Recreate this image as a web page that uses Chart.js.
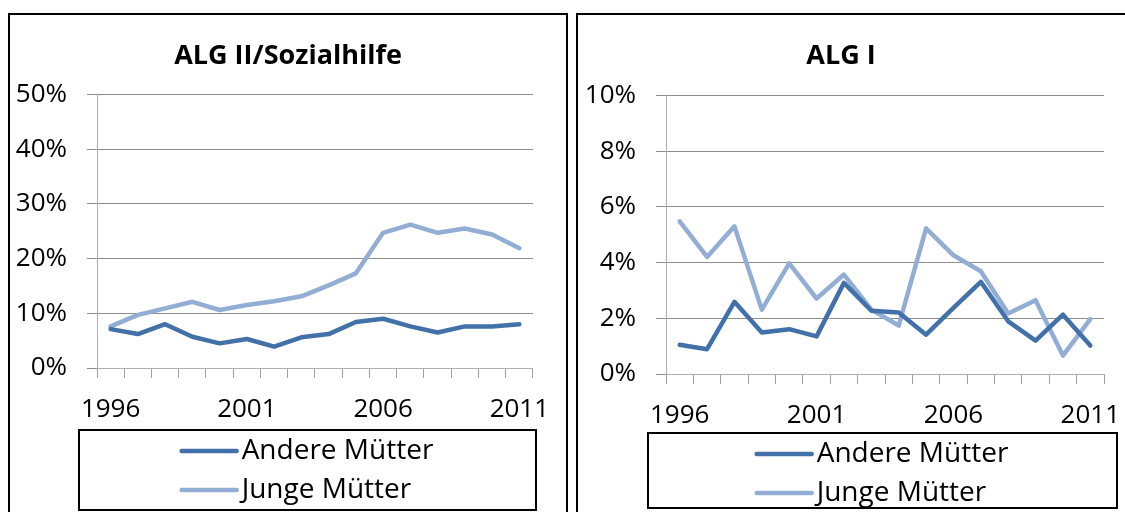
<!DOCTYPE html>
<html>
<head>
<meta charset="utf-8">
<script src="https://cdn.jsdelivr.net/npm/chart.js@4.4.1/dist/chart.umd.min.js"></script>
<style>
  body { margin: 0; background: #fff; width: 1125px; height: 512px; overflow: hidden; position: relative; }
  .panel { position: absolute; top: 13px; height: 520px; border: 2px solid #000; }
  #p1 { left: 8px; width: 556px; }
  #p2 { left: 576px; width: 560px; }
  canvas { display: block; }
</style>
</head>
<body>
<div class="panel" id="p1"><canvas id="chart1"></canvas></div>
<div class="panel" id="p2"><canvas id="chart2"></canvas></div>
<script>
// data (percent)
const years = ['1996', '1997', '1998', '1999', '2000', '2001', '2002', '2003',
  '2004', '2005', '2006', '2007', '2008', '2009', '2010', '2011'];
const shownYears = ['1996', '2001', '2006', '2011'];

const alg2Andere = [7.1, 6.2, 8.0, 5.7, 4.5, 5.3, 3.9, 5.6, 6.2, 8.4, 9.0, 7.6, 6.5, 7.6, 7.6, 8.0];
const alg2Junge = [7.6, 9.7, 10.9, 12.1, 10.6, 11.5, 12.2, 13.1, 15.1, 17.3, 24.7, 26.2, 24.7, 25.5, 24.4, 21.9];

const alg1Andere = [1.05, 0.89, 2.59, 1.49, 1.61, 1.35, 3.27, 2.27, 2.21, 1.41, 2.37, 3.31, 1.89, 1.20, 2.13, 1.02];
const alg1Junge = [5.48, 4.20, 5.30, 2.31, 3.97, 2.71, 3.57, 2.31, 1.74, 5.23, 4.26, 3.69, 2.17, 2.65, 0.66, 1.97];

const darkBlue = '#4271aa';
const lightBlue = '#93aed5';
const FONT = '"Open Sans", sans-serif';

// legend with a frame, drawn below the x axis
const boxLegend = {
  id: 'boxLegend',
  afterDraw(chart, args, opts) {
    const { ctx, chartArea: a } = chart;
    const x0 = a.left + opts.left, x1 = a.right + opts.right;
    const y0 = a.bottom + opts.top, y1 = a.bottom + opts.bottom;
    ctx.save();
    ctx.lineWidth = 2;
    ctx.strokeStyle = '#000';
    ctx.strokeRect(x0, y0, x1 - x0, y1 - y0);
    ctx.font = '28px ' + FONT;
    const sets = chart.data.datasets;
    const tw = Math.max(...sets.map(d => ctx.measureText(d.label).width));
    const sx = (x0 + x1) / 2 - (60 + tw) / 2;
    sets.forEach((d, i) => {
      const y = y0 + 21 + i * 39;
      ctx.strokeStyle = d.borderColor;
      ctx.lineWidth = d.borderWidth;
      ctx.lineCap = 'round';
      ctx.beginPath();
      ctx.moveTo(sx, y);
      ctx.lineTo(sx + 55, y);
      ctx.stroke();
      ctx.fillStyle = '#000';
      ctx.textBaseline = 'middle';
      ctx.fillText(d.label, sx + 60, y);
    });
    ctx.restore();
  }
};

// optionally centre the title on the whole panel, not the padded area
const centerTitle = {
  id: 'centerTitle',
  afterLayout(chart, args, opts) {
    const t = chart.titleBlock;
    if (t && opts.full) { t.left = 0; t.right = chart.width; t.width = chart.width; }
  }
};

function makeChart(id, title, andere, junge, yMax, yStep, box) {
  return new Chart(document.getElementById(id), {
    type: 'line',
    data: {
      labels: years,
      datasets: [
        { label: 'Andere Mütter', data: andere, borderColor: darkBlue, borderWidth: 4.5 },
        { label: 'Junge Mütter', data: junge, borderColor: lightBlue, borderWidth: 4.5 }
      ]
    },
    options: {
      responsive: true,
      maintainAspectRatio: false,
      animation: false,
      layout: { padding: { left: 0, right: box.padRight, top: 0, bottom: 0 } },
      elements: {
        point: { radius: 0 },
        line: { tension: 0, borderJoinStyle: 'round', borderCapStyle: 'round', fill: false }
      },
      plugins: {
        legend: { display: false },
        tooltip: { enabled: false },
        title: {
          display: true,
          text: title,
          color: '#000',
          font: { family: FONT, size: 27, weight: 'bold', lineHeight: 1.2 },
          padding: { top: box.titleTop, bottom: box.titleBottom }
        },
        boxLegend: box.legend,
        centerTitle: { full: box.fullTitle }
      },
      scales: {
        x: {
          offset: true,
          grid: { offset: true, drawOnChartArea: false, tickLength: 10, color: '#a0a0a0' },
          border: { color: '#b0b0b0' },
          ticks: {
            autoSkip: false,
            maxRotation: 0,
            padding: 16,
            color: '#000',
            font: { family: FONT, size: 26 },
            callback: (v, i) => shownYears.includes(years[i]) ? years[i] : ''
          },
          afterFit: s => { s.height = box.xHeight; }
        },
        y: {
          min: 0,
          max: yMax,
          grid: { color: '#8c8c8c', tickLength: 10 },
          border: { color: '#b0b0b0' },
          ticks: {
            stepSize: yStep,
            padding: 20,
            color: '#000',
            font: { family: FONT, size: 26 },
            callback: v => v + '%'
          },
          afterFit: s => { s.width = box.yWidth; }
        }
      }
    },
    plugins: [boxLegend, centerTitle]
  });
}

makeChart('chart1', 'ALG II/Sozialhilfe', alg2Andere, alg2Junge, 50, 10, {
  padRight: 29, titleTop: 25, titleBottom: 22, xHeight: 167, yWidth: 87, fullTitle: true,
  legend: { left: -18, right: 3, top: 62, bottom: 142 }
});
makeChart('chart2', 'ALG I', alg1Andere, alg1Junge, 10, 2, {
  padRight: 34, titleTop: 25, titleBottom: 23, xHeight: 161, yWidth: 88, fullTitle: false,
  legend: { left: -18, right: 13, top: 59, bottom: 134 }
});
</script>
</body>
</html>
